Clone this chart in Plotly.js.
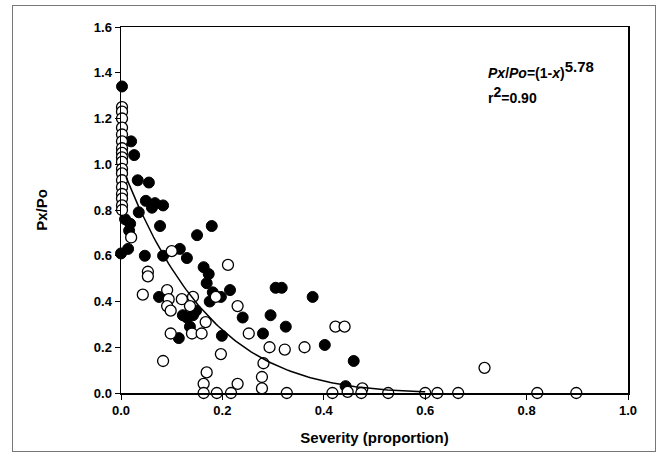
<!DOCTYPE html>
<html>
<head>
<meta charset="utf-8">
<script src="https://cdn.plot.ly/plotly-3.0.1.min.js"></script>
<style>
html,body{margin:0;padding:0;background:#fff;}
#wrap{position:relative;width:667px;height:459px;}
#chart{width:667px;height:459px;}
#frame{position:absolute;left:12px;top:5px;width:642px;height:445px;border:1px solid #777;pointer-events:none;}
</style>
</head>
<body>
<div id="wrap"><div id="chart"></div><div id="frame"></div></div>
<script>
// Filled symbols (severity, Px/Po)
const filledX = [0.002,0.020,0.026,0.033,0.055,0.049,0.067,0.061,0.083,0.035,0.008,0.018,0.016,0.077,0.179,0.150,0.014,0.000,0.047,0.083,0.116,0.130,0.163,0.173,0.169,0.181,0.197,0.175,0.215,0.075,0.122,0.130,0.142,0.148,0.136,0.114,0.199,0.240,0.295,0.280,0.305,0.317,0.378,0.325,0.402,0.459,0.443];
const filledY = [1.34,1.10,1.04,0.93,0.92,0.84,0.83,0.81,0.82,0.79,0.76,0.74,0.71,0.73,0.73,0.69,0.63,0.61,0.60,0.60,0.63,0.59,0.55,0.52,0.48,0.44,0.42,0.40,0.45,0.42,0.34,0.33,0.34,0.36,0.29,0.24,0.25,0.33,0.34,0.26,0.46,0.46,0.42,0.29,0.21,0.14,0.03];
// Open symbols (severity, Px/Po)
const openX = [0.002,0.002,0.002,0.002,0.002,0.002,0.002,0.002,0.002,0.002,0.002,0.002,0.002,0.002,0.002,0.002,0.002,0.002,
  0.020,0.100,0.053,0.053,0.043,0.091,0.094,0.091,0.098,0.120,0.142,0.187,0.136,0.211,0.230,0.167,0.098,0.140,0.159,0.252,0.293,0.323,0.362,0.197,0.083,0.281,0.169,0.278,0.230,0.163,0.278,0.423,0.441,0.476,0.447,0.717,
  0.163,0.189,0.217,0.327,0.417,0.474,0.527,0.600,0.624,0.665,0.821,0.898];
const openY = [1.25,1.23,1.20,1.16,1.13,1.10,1.07,1.05,1.03,1.01,0.98,0.96,0.93,0.90,0.87,0.85,0.82,0.80,
  0.68,0.62,0.53,0.51,0.43,0.45,0.41,0.38,0.36,0.41,0.42,0.42,0.38,0.56,0.38,0.31,0.26,0.26,0.26,0.26,0.20,0.19,0.20,0.17,0.14,0.13,0.09,0.07,0.04,0.04,0.02,0.29,0.29,0.02,0.005,0.11,
  0,0,0,0,0,0,0,0,0,0,0,0];
// Fitted model: Px/Po = (1 - x)^b
const fitExponent = 5.78;
const fitR2 = 0.90;
const fitStart = 0.01, fitEnd = 0.6;
const xTicks = [0,0.2,0.4,0.6,0.8,1.0];
const yTicks = [0,0.2,0.4,0.6,0.8,1.0,1.2,1.4,1.6];

const fitX = [], fitY = [];
for (let i = 0; i <= 120; i++) {
  const x = fitStart + (fitEnd - fitStart) * i / 120;
  fitX.push(x); fitY.push(Math.pow(1 - x, fitExponent));
}

const font = {family: 'Liberation Sans, Arial, sans-serif', color: '#000'};
const traces = [
  {x: filledX, y: filledY, type: 'scatter', mode: 'markers', cliponaxis: false,
   marker: {symbol: 'circle', size: 11, color: '#000', line: {color: '#000', width: 1}}, hoverinfo: 'x+y'},
  {x: openX, y: openY, type: 'scatter', mode: 'markers', cliponaxis: false,
   marker: {symbol: 'circle', size: 11, color: '#fff', line: {color: '#000', width: 1.3}}, hoverinfo: 'x+y'},
  {x: fitX, y: fitY, type: 'scatter', mode: 'lines', line: {color: '#000', width: 1.5}, hoverinfo: 'skip'}
];
const layout = {
  width: 667, height: 459,
  margin: {l: 121, r: 39, t: 27, b: 66},
  paper_bgcolor: '#fff', plot_bgcolor: '#fff',
  showlegend: false,
  font: font,
  xaxis: {range: [0, 1], tickvals: xTicks, ticktext: xTicks.map(v => v.toFixed(1)),
    ticks: 'outside', ticklen: 5, tickwidth: 1, tickcolor: '#000',
    showline: true, linecolor: '#000', linewidth: 1.5, mirror: true, showgrid: false, zeroline: false,
    tickfont: {family: font.family, size: 13, color: '#000', weight: 'bold'},
    title: {text: 'Severity (proportion)', standoff: 15, font: {family: font.family, size: 15, color: '#000', weight: 'bold'}}},
  yaxis: {range: [0, 1.6], tickvals: yTicks, ticktext: yTicks.map(v => v.toFixed(1)),
    ticks: 'outside', ticklen: 5, tickwidth: 1, tickcolor: '#000',
    showline: true, linecolor: '#000', linewidth: 1.5, mirror: true, showgrid: false, zeroline: false,
    tickfont: {family: font.family, size: 13, color: '#000', weight: 'bold'},
    title: {text: 'Px/Po', standoff: 42, font: {family: font.family, size: 15, color: '#000', weight: 'bold'}}},
  annotations: [
    {xref: 'paper', yref: 'paper', x: 0.72, y: 0.885, xanchor: 'left', yanchor: 'middle', showarrow: false,
     text: '<b><i>Px</i>/<i>Po</i>=(1-<i>x</i>)<sup><span style="font-size:15px">' + fitExponent.toFixed(2) + '</span></sup></b>',
     font: {family: font.family, size: 14, color: '#000'}},
    {xref: 'paper', yref: 'paper', x: 0.72, y: 0.815, xanchor: 'left', yanchor: 'middle', showarrow: false,
     text: '<b>r<sup><span style="font-size:14px">2</span></sup>=' + fitR2.toFixed(2) + '</b>', font: {family: font.family, size: 14, color: '#000'}}
  ]
};
Plotly.newPlot('chart', traces, layout, {staticPlot: true, displayModeBar: false});
</script>
</body>
</html>
